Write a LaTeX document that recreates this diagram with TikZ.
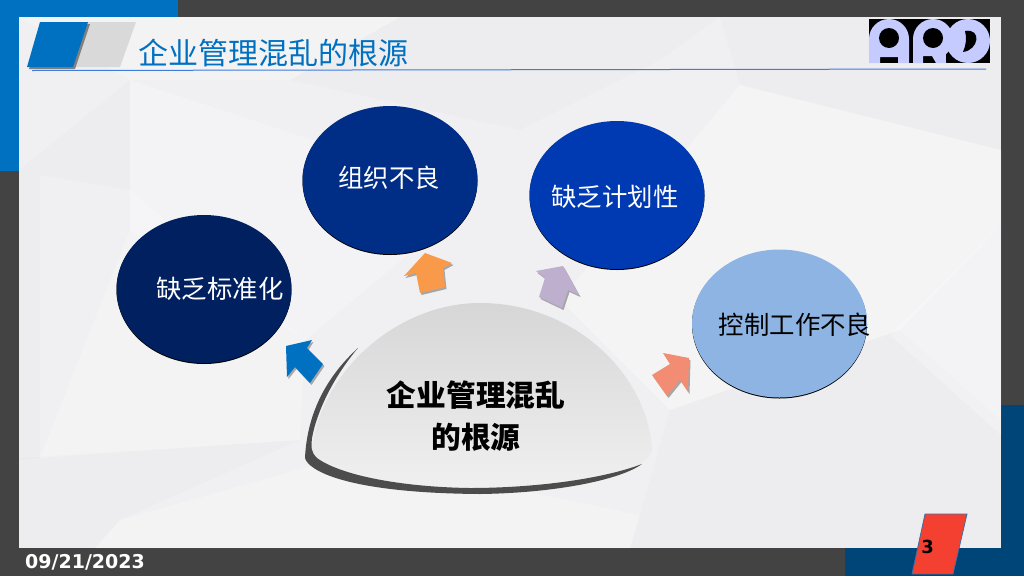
\documentclass[tikz,border=0pt]{standalone}
\usepackage{fontspec}
\setmainfont{DejaVu Sans}
\newfontfamily\cjk{Noto Sans CJK SC}
\usetikzlibrary{shadows,shapes.geometric}
\definecolor{frame}{HTML}{434343}
\definecolor{ablue}{HTML}{0070C0}
\definecolor{navy}{HTML}{004578}
\definecolor{panel}{HTML}{F0F0F2}
\definecolor{logo}{HTML}{C5CBFF}
\definecolor{bA}{HTML}{002060}
\definecolor{bB}{HTML}{002D86}
\definecolor{bC}{HTML}{003AB2}
\definecolor{bD}{HTML}{8EB4E3}
\definecolor{arB}{HTML}{F99A4B}
\definecolor{arC}{HTML}{BFAFCF}
\definecolor{arD}{HTML}{F28D73}
\definecolor{redp}{HTML}{F44030}
\definecolor{redb}{HTML}{3C6EA5}
\tikzset{
  x=1pt,y=-1pt,
  bubble/.style={ellipse,draw=none,minimum width=175pt,minimum height=148pt,inner sep=0pt,
    drop shadow={shadow xshift=0pt,shadow yshift=-1pt,opacity=1,fill=black}},
  bubbletext/.style={font=\cjk\fontsize{25.4}{30}\selectfont,inner sep=0pt},
  shade1/.style={fill=black!35,draw=none},
  facet/.style={fill=#1,draw=none},
}
\begin{document}
\begin{tikzpicture}
\useasboundingbox (0,0) rectangle (1024,576);
% frame
\fill[frame] (0,0) rectangle (1024,576);
\fill[ablue] (0,0) rectangle (178,17);
\fill[ablue] (0,0) rectangle (19,171);
\fill[navy] (1001,405) rectangle (1024,576);
\fill[navy] (845,548) rectangle (1024,576);
% panel
\fill[panel] (19,17) rectangle (1001,548);
\begin{scope}
\clip (19,17) rectangle (1001,548);
\fill[facet=white,opacity=.2] (19,17) -- (400,17) -- (290,80) -- (130,80) -- cycle;
\fill[facet=black,opacity=.012] (400,17) -- (720,17) -- (660,60) -- (520,130) -- (290,80) -- cycle;
\fill[facet=white,opacity=.25] (130,80) -- (480,195) -- (305,340) -- (130,230) -- cycle;
\fill[facet=black,opacity=.01] (19,170) -- (130,80) -- (130,230) -- (40,458) -- (19,460) -- cycle;
\fill[facet=white,opacity=.2] (40,175) -- (130,190) -- (305,340) -- (300,440) -- (40,458) -- cycle;
\fill[facet=black,opacity=.012] (720,17) -- (1001,17) -- (1001,150) -- (740,85) -- cycle;
\fill[facet=white,opacity=.3] (740,85) -- (1001,150) -- (1001,225) -- (900,330) -- (670,410) -- (560,300) -- cycle;
\fill[facet=black,opacity=.012] (670,410) -- (900,330) -- (1001,420) -- (1001,548) -- (630,548) -- (640,515) -- cycle;
\fill[facet=white,opacity=.25] (890,335) -- (1001,225) -- (1001,435) -- cycle;
\fill[facet=white,opacity=.2] (120,520) -- (350,455) -- (640,515) -- (630,548) -- (95,548) -- cycle;
\fill[facet=black,opacity=.012] (19,458) -- (300,440) -- (120,520) -- (95,548) -- (19,548) -- cycle;
\end{scope}
% header
\fill[black!15] (88,22) -- (136,22) -- (120,67) -- (73,67) -- cycle;
\fill[black!50] (42,24) -- (90,24) -- (75,69) -- (29,69) -- cycle;
\fill[ablue] (40,22) -- (88,22) -- (73,67) -- (27,67) -- cycle;
\node[anchor=west,inner sep=0pt,text=ablue,font=\cjk\fontsize{30}{36}\selectfont] (title) at (138,53) {企业管理混乱的根源};
\draw[color=ablue!70!blue!75!white,line width=1pt] (32,70.5) -- (986,69);
% logo
\fill[black] (869,19) rectangle (990,63);
\fill[logo] (869,63) -- (869,39) arc[start angle=180,end angle=360,radius=20] -- (909,63) -- (898,63) -- (898,57) -- (880,57) -- (880,63) -- cycle;
\fill[black] (889,38) circle[radius=10];
\fill[logo] (913,63) -- (913,39) arc[start angle=180,end angle=410,radius=20] -- (946,63) -- (936,63) -- (932,56) -- (923,56) -- (923,63) -- cycle;
\fill[black] (933,38) circle[radius=10];
\fill[logo] (968,41) circle[radius=22];
\fill[black] (965,31) .. controls (982,28) and (979,50) .. (963,52) .. controls (966,45) and (967,38) .. (965,31) -- cycle;
% bubbles
\node[bubble,fill=bA] (b1) at (204,289) {};
\node[bubble,fill=bB] (b2) at (390,180) {};
\node[bubble,fill=bC] (b3) at (617,195) {};
\node[bubble,fill=bD] (b4) at (779.5,323.5) {};
\node[bubbletext,text=white] (t1) at (220,289) {缺乏标准化};
\node[bubbletext,text=white] (t2) at (389,178) {组织不良};
\node[bubbletext,text=white] (t3) at (615,197) {缺乏计划性};
\node[bubbletext,text=black] (t4) at (795,325) {控制工作不良};
% arrows
\def\arrA{(286,346) -- (312,340) -- (307,348) -- (323,364) -- (310,383) -- (295,367) -- (287,377) -- cycle}
\def\arrB{(425,253) -- (452,263) -- (443,268) -- (445,287) -- (420,293) -- (416,273) -- (404,276) -- cycle}
\def\arrC{(563,266) -- (579,295) -- (568,290) -- (562,308) -- (539,297) -- (545,278) -- (536,271) -- cycle}
\def\arrD{(689,358) -- (663,353) -- (670,364) -- (652,375) -- (667,396) -- (680,380) -- (688,392) -- cycle}
\begin{scope}[shift={(1.5,2)}]
\fill[shade1] \arrA; \fill[shade1] \arrB; \fill[shade1] \arrC; \fill[shade1] \arrD;
\end{scope}
\fill[ablue] \arrA;
\fill[arB] \arrB;
\fill[arC] \arrC;
\fill[arD] \arrD;
% dome
\shade[top color=black!16,bottom color=black!6]
  (312,452) .. controls (318,375) and (395,303) .. (480,303)
  .. controls (575,303) and (648,375) .. (652,450)
  .. controls (650,456) and (645,461) .. (641,464)
  .. controls (590,482) and (530,488) .. (470,488)
  .. controls (400,488) and (340,475) .. (318,460) -- cycle;
\fill[black!70]
  (358,348) .. controls (325,378) and (307,415) .. (305,458)
  .. controls (308,470) and (345,493) .. (480,494)
  .. controls (555,493) and (620,480) .. (642,464)
  .. controls (600,480) and (530,488) .. (470,488)
  .. controls (400,487) and (340,475) .. (317,458)
  .. controls (311,452) and (311,448) .. (312,438)
  .. controls (317,410) and (335,375) .. (358,348) -- cycle;
\node[align=center,inner sep=0pt,text=black,font=\cjk\bfseries\fontsize{29.7}{42}\selectfont] (domet) at (476,416) {企业管理混乱\\的根源};
% footer
\fill[redp,draw=redb,line width=.8pt] (925,514) -- (967,514) -- (953,574) -- (912,574) -- cycle;
\node[inner sep=0pt,font=\bfseries\fontsize{18}{20}\selectfont,text=black] (num) at (927.5,547) {3};
\node[anchor=west,inner sep=0pt,font=\bfseries\fontsize{19}{22}\selectfont,text=white] (date) at (25,562) {09/21/2023};
\end{tikzpicture}
\end{document}
